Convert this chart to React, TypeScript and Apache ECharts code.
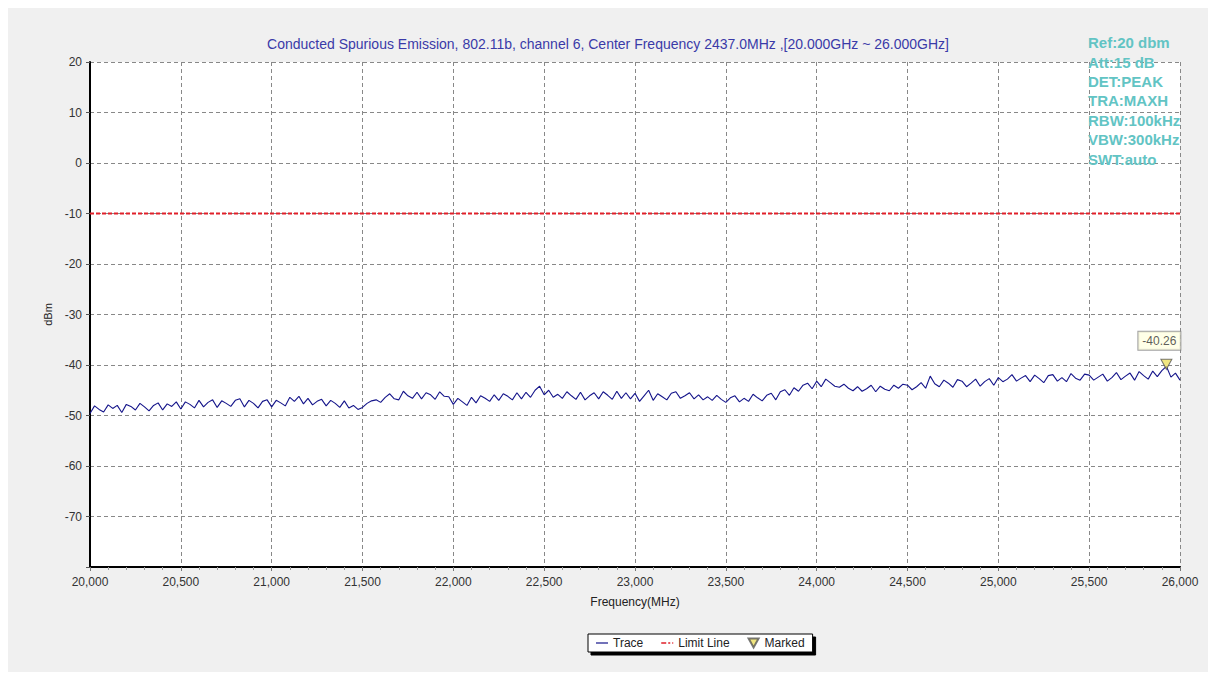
import React, { useEffect, useRef } from "react";
import * as echarts from "echarts";

const TITLE = "Conducted Spurious Emission, 802.11b, channel 6, Center Frequency 2437.0MHz ,[20.000GHz ~ 26.000GHz]";
const SETTINGS = ["Ref:20 dbm", "Att:15 dB", "DET:PEAK", "TRA:MAXH", "RBW:100kHz", "VBW:300kHz", "SWT:auto"];

const START_MHZ = 20000;
const STEP_MHZ = 25;
const traceDbm: number[] = [
  -49.6, -48.1, -48.8, -49.3, -47.9, -48.6, -48.0, -49.4, -47.8, -48.2, -48.9, -47.6, -48.3, -49.1, -48.0, -47.5, -48.9, -47.7, -48.2, -47.3,
  -48.7, -47.3, -47.8, -48.5, -47.0, -48.3, -47.4, -46.9, -48.4, -47.1, -47.6, -48.2, -47.0, -46.7, -48.3, -47.0, -47.6, -48.5, -47.2, -46.9,
  -48.3, -47.0, -47.5, -48.1, -46.4, -47.2, -46.2, -47.7, -46.6, -47.9, -47.2, -46.8, -48.1, -47.0, -47.6, -48.4, -47.1, -48.5, -48.0, -48.8,
  -48.4, -47.6, -47.1, -46.9, -47.4, -46.4, -45.7, -46.7, -46.9, -45.2, -46.1, -46.6, -45.4, -46.7, -45.5, -45.9, -46.8, -45.3, -46.2, -46.3,
  -47.8, -46.6, -47.3, -48.0, -46.4, -47.5, -46.1, -46.6, -47.2, -45.9, -47.0, -45.7, -46.2, -46.9, -45.5, -46.7, -45.4, -46.4, -45.0, -44.2,
  -45.9, -45.0, -46.4, -45.8, -46.6, -45.3, -46.1, -46.8, -45.4, -46.9, -46.1, -45.5, -46.7, -45.3, -46.0, -46.8, -45.2, -46.6, -45.5, -46.7,
  -45.6, -47.2, -46.1, -45.0, -47.0, -45.7, -46.3, -46.9, -45.6, -45.3, -46.6, -46.1, -45.5, -46.7, -45.9, -46.9, -46.3, -47.0, -46.0, -46.8,
  -47.4, -46.5, -46.1, -47.3, -46.6, -47.2, -45.8, -46.5, -47.1, -46.0, -45.6, -46.9, -45.3, -44.9, -46.0, -44.5, -45.2, -44.0, -43.6, -44.7,
  -43.2, -44.3, -42.8, -43.5, -44.2, -44.4, -43.8, -44.6, -45.1, -44.3, -45.2, -44.7, -44.0, -45.3, -44.2, -44.8, -45.1, -44.0, -44.6, -43.8,
  -44.0, -44.9, -44.3, -43.5, -44.6, -42.2, -43.7, -44.3, -43.0, -43.6, -44.4, -42.9, -43.2, -44.3, -43.6, -42.8, -44.2, -43.3, -42.7, -44.0,
  -42.5, -43.3, -42.8, -41.9, -43.2, -42.6, -42.1, -43.3, -42.0, -42.7, -43.5, -42.1, -41.9, -43.2, -42.5, -43.3, -41.7, -42.6, -43.0, -41.8,
  -42.0, -43.0, -42.4, -41.8, -43.2, -42.5, -41.5, -42.9, -42.2, -41.6, -43.0, -41.3, -42.1, -42.8, -41.2, -42.3, -41.1, -40.26, -42.4, -41.6,
  -43.0,
];
const limitFreq = [20000, 26000];
const limitDbm = [-10, -10];
const markedFreq = 25925;
const markedDbm = -40.26;

const FONT = "'Liberation Sans', Arial, sans-serif";

export default function App() {
  const ref = useRef<HTMLDivElement>(null);
  useEffect(() => {
    if (!ref.current) return;
    const chart = echarts.init(ref.current, undefined, { renderer: "svg" });
    const traceData = traceDbm.map((v, i) => [START_MHZ + i * STEP_MHZ, v]);
    const limitData = limitFreq.map((f, i) => [f, limitDbm[i]]);
    const markIcon = "path://M0,0L10,0L5,9Z";
    chart.setOption({
      animation: false,
      backgroundColor: "#f0f0f0",
      textStyle: { fontFamily: FONT },
      title: {
        text: TITLE,
        left: "center",
        top: 29,
        padding: 0,
        textStyle: { fontSize: 14, fontWeight: "normal", color: "#3a3aa8", fontFamily: FONT },
      },
      graphic: [
        {
          type: "text",
          left: 1080,
          top: 25,
          z: 100,
          style: {
            text: SETTINGS.join("\n"),
            fontSize: 15,
            fontWeight: "bold",
            lineHeight: 19.4,
            fill: "#62c4c4",
            fontFamily: FONT,
          },
        },
      ],
      legend: {
        left: 580,
        top: 626,
        orient: "horizontal",
        backgroundColor: "#ffffff",
        borderColor: "#000000",
        borderWidth: 1,
        borderRadius: 0,
        shadowColor: "#000000",
        shadowOffsetX: 3,
        shadowOffsetY: 3,
        shadowBlur: 0,
        padding: [3, 8],
        itemGap: 18,
        itemWidth: 12,
        itemHeight: 9,
        textStyle: { fontSize: 12, color: "#222", fontFamily: FONT },
        data: [
          { name: "Trace", icon: "path://M0,0H12V1.2H0Z", itemStyle: { color: "#14148a" } },
          { name: "Limit Line", icon: "path://M0,0H5V1.6H0ZM7,0H9V1.6H7ZM11,0H12V1.6H11Z", itemStyle: { color: "#e0202a" } },
          { name: "Marked", icon: markIcon },
        ],
      },
      grid: {
        left: 82,
        top: 54,
        right: 28,
        bottom: 105,
        show: true,
        backgroundColor: "#ffffff",
        borderWidth: 0,
      },
      xAxis: {
        type: "value",
        min: 20000,
        max: 26000,
        interval: 500,
        name: "Frequency(MHz)",
        nameLocation: "middle",
        nameGap: 29,
        nameTextStyle: { fontSize: 12, color: "#222", fontFamily: FONT },
        axisLine: { show: true, onZero: false, lineStyle: { color: "#000", width: 2 } },
        axisTick: { show: true, length: 4, lineStyle: { color: "#777" } },
        minorTick: { show: true, splitNumber: 5, length: 3, lineStyle: { color: "#999" } },
        axisLabel: {
          fontSize: 12,
          color: "#333",
          margin: 9,
          formatter: (v: number) => v.toLocaleString("en-US"),
        },
        splitLine: { show: true, lineStyle: { color: "#888", type: [4, 3], width: 1 } },
      },
      yAxis: {
        type: "value",
        min: -80,
        max: 20,
        interval: 10,
        name: "dBm",
        nameLocation: "middle",
        nameGap: 24,
        nameTextStyle: { fontSize: 11, color: "#222", fontFamily: FONT },
        axisLine: { show: true, onZero: false, lineStyle: { color: "#000", width: 2 } },
        axisTick: { show: true, length: 4, lineStyle: { color: "#555" } },
        axisLabel: {
          fontSize: 12,
          color: "#333",
          margin: 8,
          formatter: (v: number) => (v === -80 ? "" : String(v)),
        },
        splitLine: { show: true, lineStyle: { color: "#888", type: [4, 3], width: 1 } },
      },
      series: [
        {
          name: "Trace",
          type: "line",
          data: traceData,
          symbol: "none",
          lineStyle: { color: "#14148a", width: 1.1 },
          itemStyle: { color: "#14148a" },
          z: 3,
        },
        {
          name: "Limit Line",
          type: "line",
          data: limitData,
          symbol: "none",
          lineStyle: { color: "#e0202a", width: 2, type: [4, 2] },
          itemStyle: { color: "#e0202a" },
          z: 2,
        },
        {
          name: "Marked",
          type: "scatter",
          data: [[markedFreq, markedDbm]],
          symbol: markIcon,
          symbolSize: [11, 10],
          symbolOffset: [0, -2],
          itemStyle: { color: "#eee060", borderColor: "#555", borderWidth: 1 },
          label: {
            show: true,
            position: "top",
            offset: [-7, -4],
            formatter: () => markedDbm.toFixed(2),
            fontSize: 12,
            color: "#333",
            backgroundColor: "#ffffe1",
            borderColor: "#888",
            borderWidth: 1,
            padding: [3, 4],
            fontFamily: FONT,
          },
          z: 5,
        },
      ],
    });
    return () => chart.dispose();
  }, []);
  return <div ref={ref} style={{ width: 1200, height: 664 }} />;
}
